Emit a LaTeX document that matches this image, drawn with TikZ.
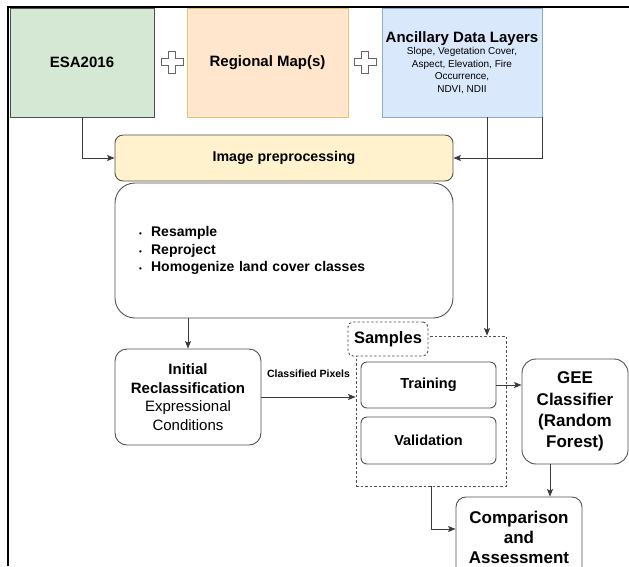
\documentclass[tikz,border=0pt]{standalone}
\usepackage{fontspec}
\setmainfont{Liberation Sans}
\usetikzlibrary{arrows.meta, calc}

\definecolor{esaFill}{HTML}{D5E8D4}
\definecolor{regFill}{HTML}{FFE6CC}
\definecolor{regLine}{HTML}{E3C27A}
\definecolor{ancFill}{HTML}{DAE8FC}
\definecolor{ancLine}{HTML}{8FA9CC}
\definecolor{prepFill}{HTML}{FFF2CC}
\definecolor{boxLine}{HTML}{505050}
\definecolor{arrowLine}{HTML}{3A3A3A}

\tikzset{
    box base/.style={draw=boxLine, line width=0.9pt, align=center, inner sep=2pt},
    source box/.style={box base, minimum height=109pt,
        font=\fontsize{15}{18}\selectfont\bfseries},
    round box/.style={box base, rounded corners=#1},
    round box/.default=8pt,
    flow arrow/.style={draw=arrowLine, line width=0.9pt,
        -{Stealth[length=7.5pt,width=6pt,inset=1.5pt]}},
    plus sign/.style={draw=black!60, fill=white, line width=0.7pt},
}

\begin{document}
\begin{tikzpicture}[x=1pt, y=-1pt]
    \useasboundingbox (0,0) rectangle (629,566);

    % page frame
    \draw[line width=1.1pt] (8,566) -- (8,7) -- (629,7);

    % input layers
    \node[source box, fill=esaFill, minimum width=144pt] (esa) at (82,62.5) {ESA2016};
    \node[source box, fill=regFill, draw=regLine, minimum width=161pt] (regional) at (267.5,62.5) {Regional Map(s)};
    \node[source box, fill=ancFill, draw=ancLine, minimum width=160pt,
        font=\fontsize{10}{12.6}\selectfont] (ancillary) at (462,62.5)
        {{\fontsize{15}{17}\selectfont\bfseries Ancillary Data Layers}\\
         Slope, Vegetation Cover,\\Aspect, Elevation, Fire\\Occurrence,\\NDVI, NDII};

    \foreach \px in {172, 365} {
        \draw[plus sign, shift={(\px,62)}]
            (-3.5,-11) -- (3.5,-11) -- (3.5,-3.5) -- (11,-3.5) -- (11,3.5) -- (3.5,3.5)
            -- (3.5,11) -- (-3.5,11) -- (-3.5,3.5) -- (-11,3.5) -- (-11,-3.5) -- (-3.5,-3.5) -- cycle;
    }

    % preprocessing
    \node[round box, fill=prepFill, minimum width=338pt, minimum height=46pt,
        font=\fontsize{14.2}{16}\selectfont\bfseries] (prep) at (284,158) {Image preprocessing};
    \node[round box=20pt, minimum width=338pt, minimum height=135pt, inner xsep=24pt,
        text width=290pt, align=left, font=\fontsize{14}{17.5}\selectfont\bfseries] (steps) at (284,250.5)
        {{\fontsize{8}{8}\selectfont\textbullet}\,\, Resample\\
         {\fontsize{8}{8}\selectfont\textbullet}\,\, Reproject\\
         {\fontsize{8}{8}\selectfont\textbullet}\,\, Homogenize land cover classes};

    % classification
    \node[round box=12pt, minimum width=146pt, minimum height=96pt,
        font=\fontsize{15}{18.5}\selectfont] (initial) at (188,397)
        {\textbf{Initial}\\\textbf{Reclassification}\\Expressional\\Conditions};
    \node[draw=boxLine, line width=0.8pt, dashed, dash pattern=on 2.5pt off 2pt,
        minimum width=150pt, minimum height=150pt] (samples) at (431,411) {};
    \node[round box=5pt, fill=white, dash pattern=on 2.5pt off 2pt, minimum width=80pt,
        minimum height=34pt, font=\fontsize{16.5}{19}\selectfont\bfseries] (samplesTitle) at (388,339) {Samples};
    \node[round box=6pt, minimum width=135pt, minimum height=46pt,
        font=\fontsize{14.5}{17}\selectfont\bfseries] (training) at (428.5,385) {Training};
    \node[round box=6pt, minimum width=135pt, minimum height=47pt,
        font=\fontsize{14.5}{17}\selectfont\bfseries] (validation) at (428.5,440.5) {Validation};
    \node[round box=14pt, minimum width=106pt, minimum height=105pt,
        font=\fontsize{17}{21.3}\selectfont\bfseries] (gee) at (575,411.5) {GEE\\Classifier\\(Random\\Forest)};
    \node[round box=10pt, minimum width=126pt, minimum height=80pt,
        font=\fontsize{17}{20}\selectfont\bfseries] (compare) at (519,537) {Comparison\\and\\Assessment};

    % connectors
    \draw[flow arrow] (esa.south) |- (prep.west);
    \draw[flow arrow] (ancillary.south east) |- (prep.east);
    \draw[flow arrow] ([xshift=25pt]ancillary.south) -- ([xshift=25pt]ancillary.south |- samples.north);
    \draw[flow arrow] (initial.north |- steps.south) -- (initial.north);
    \draw[flow arrow] (initial.east) -- (initial.east -| samples.west)
        node[midway, above=16pt, font=\fontsize{10.5}{12}\selectfont\bfseries] {Classified Pixels};
    \draw[flow arrow] (training.east) -- (training.east -| gee.west);
    \draw[flow arrow] ([xshift=-25pt]gee.south) -- ([xshift=-25pt]gee.south |- compare.north);
    \draw[flow arrow] (samples.south) |- ([yshift=8pt]compare.west);
\end{tikzpicture}
\end{document}
